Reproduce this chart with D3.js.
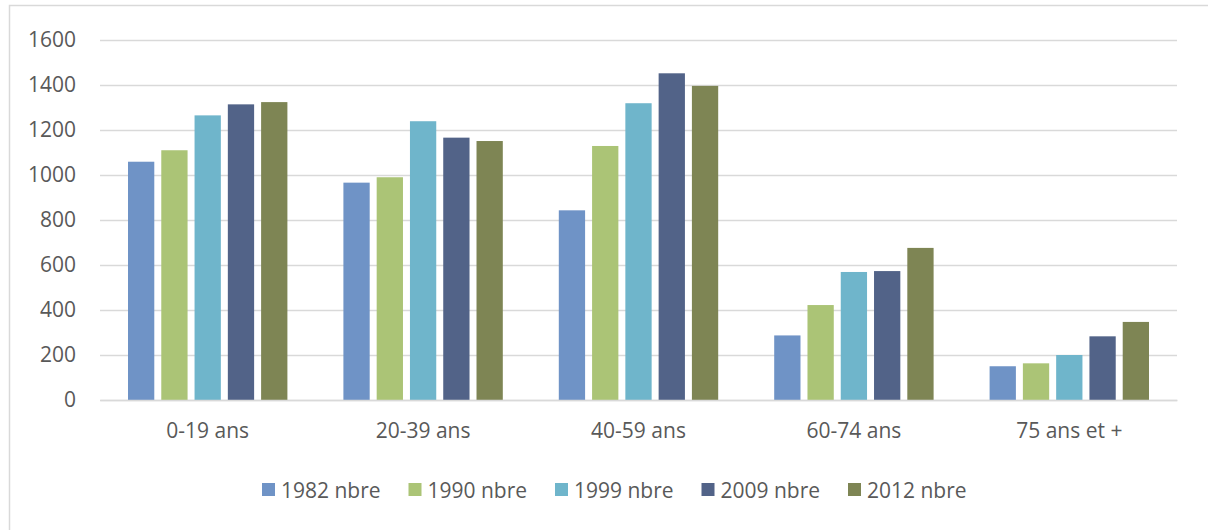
<!DOCTYPE html>
<html>
<head>
<meta charset="utf-8">
<script src="https://cdn.jsdelivr.net/npm/d3@7"></script>
<style>
  body { margin: 0; background: #fff; }
  svg text { font-family: "Open Sans", "Liberation Sans", sans-serif; fill: #595959; }
</style>
</head>
<body>
<div id="main"></div>
<script>
// age groups on the x axis
const categories = ['0-19 ans', '20-39 ans', '40-59 ans', '60-74 ans', '75 ans et +'];
// one series per census year
const seriesNames = ['1982 nbre', '1990 nbre', '1999 nbre', '2009 nbre', '2012 nbre'];
const v1982 = [1059, 966, 843, 287, 150];
const v1990 = [1110, 990, 1129, 422, 163];
const v1999 = [1265, 1239, 1319, 569, 200];
const v2009 = [1314, 1166, 1452, 573, 283];
const v2012 = [1324, 1151, 1396, 676, 347];
const yTicks = [0, 200, 400, 600, 800, 1000, 1200, 1400, 1600];
const colors = ['#6f93c6', '#abc476', '#6fb5cb', '#526388', '#7e8554'];

const seriesValues = [v1982, v1990, v1999, v2009, v2012];

const w = 1208, h = 530;
const padL = 100, padR = 1177, padT = 40, padB = 400;   // plot area edges

const svg = d3.select('#main').append('svg')
    .attr('width', w)
    .attr('height', h);

// chart frame (right/bottom edges sit outside the picture)
svg.append('rect')
    .attr('x', 9.5).attr('y', 5.5)
    .attr('width', w + 20).attr('height', h + 20)
    .attr('fill', 'none')
    .attr('stroke', '#d9d9d9')
    .attr('stroke-width', 1.5);

const x0 = d3.scaleBand().domain(categories).range([padL, padR]);
const x1 = d3.scaleBand().domain(seriesNames)
    .range([28, x0.bandwidth() - 28])
    .paddingInner(0.21);
const y = d3.scaleLinear().domain([0, 1600]).range([padB, padT]);

// gridlines + y labels
const yAxis = d3.axisLeft(y)
    .tickValues(yTicks)
    .tickSize(-(padR - padL))
    .tickPadding(24)
    .tickFormat(d3.format('d'));

const gy = svg.append('g')
    .attr('transform', 'translate(' + padL + ',0)')
    .call(yAxis);
gy.select('.domain').remove();
gy.selectAll('.tick line').attr('stroke', '#d9d9d9').attr('stroke-width', 1.3);
gy.selectAll('.tick text').style('font-size', '21px').attr('fill', '#595959');

// bars
const groups = svg.append('g').selectAll('g')
    .data(categories)
    .enter().append('g')
    .attr('transform', d => 'translate(' + x0(d) + ',0)');

groups.selectAll('rect')
    .data((d, i) => seriesNames.map((s, j) => ({ s: s, v: seriesValues[j][i], j: j })))
    .enter().append('rect')
    .attr('x', d => x1(d.s))
    .attr('y', d => y(d.v))
    .attr('width', x1.bandwidth())
    .attr('height', d => y(0) - y(d.v))
    .attr('fill', d => colors[d.j]);

// x axis labels
const xAxis = d3.axisBottom(x0).tickSize(0).tickPadding(23);
const gx = svg.append('g')
    .attr('transform', 'translate(0,' + padB + ')')
    .call(xAxis);
gx.select('.domain').attr('stroke', '#d9d9d9').attr('stroke-width', 1.3);
gx.selectAll('.tick text').style('font-size', '21px').attr('fill', '#595959');

// legend
const legend = svg.append('g').attr('transform', 'translate(262,490)');
const item = legend.selectAll('g')
    .data(seriesNames)
    .enter().append('g')
    .attr('transform', (d, i) => 'translate(' + (i * 146.5) + ',0)');
item.append('rect')
    .attr('x', 0).attr('y', -7)
    .attr('width', 13).attr('height', 13)
    .attr('fill', (d, i) => colors[i]);
item.append('text')
    .attr('x', 19).attr('y', 0)
    .attr('dy', '0.36em')
    .style('font-size', '21px')
    .text(d => d);
</script>
</body>
</html>
